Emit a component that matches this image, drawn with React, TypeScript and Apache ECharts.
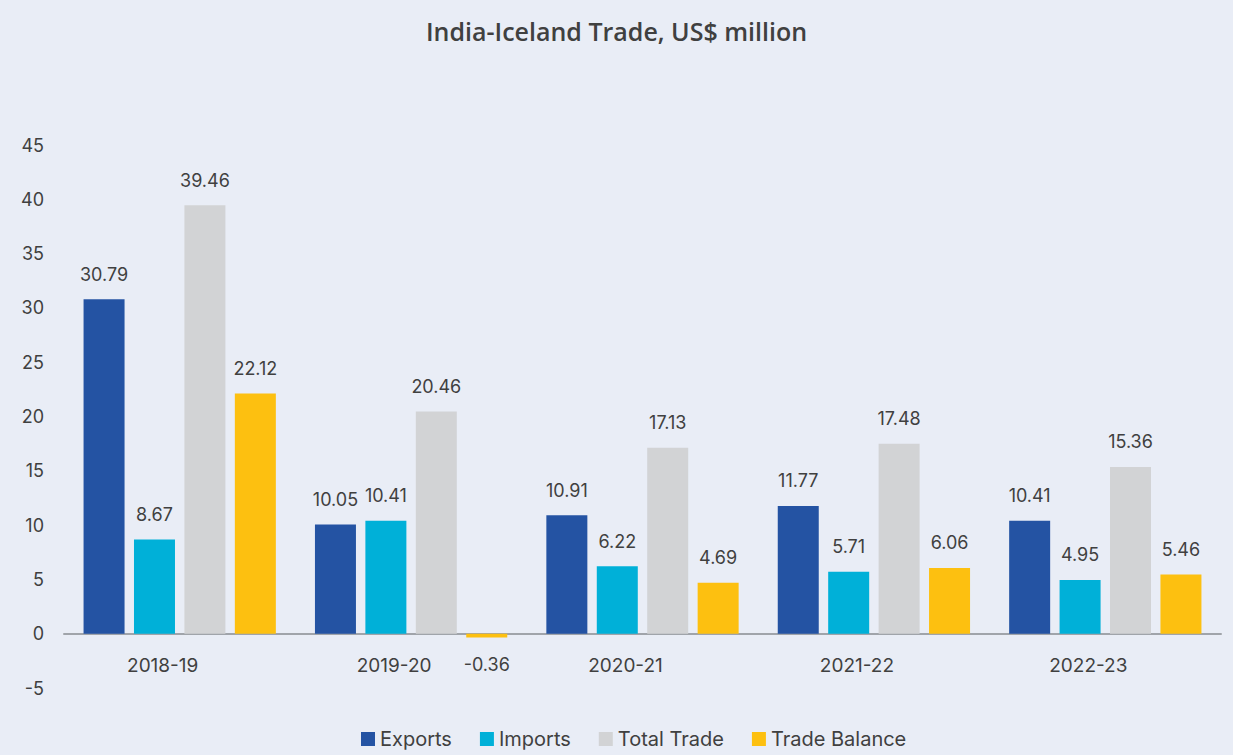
import React, { useEffect, useRef } from "react";
import * as echarts from "echarts";

const categories = ["2018-19", "2019-20", "2020-21", "2021-22", "2022-23"];
const exportsData = [30.79, 10.05, 10.91, 11.77, 10.41];
const importsData = [8.67, 10.41, 6.22, 5.71, 4.95];
const totalTrade = [39.46, 20.46, 17.13, 17.48, 15.36];
const tradeBalance = [22.12, -0.36, 4.69, 6.06, 5.46];

const seriesNames = ["Exports", "Imports", "Total Trade", "Trade Balance"];
const seriesColors = ["#2453A3", "#00B0D8", "#D2D3D5", "#FDC010"];
const seriesValues = [exportsData, importsData, totalTrade, tradeBalance];

const FONT = "Inter, 'Noto Sans', sans-serif";
const TEXT = "#404040";

export default function App() {
  const ref = useRef<HTMLDivElement>(null);
  useEffect(() => {
    document.body.style.margin = "0";
    if (!ref.current) return;
    const chart = echarts.init(ref.current, null, { renderer: "svg" });
    chart.setOption({
      animation: false,
      backgroundColor: "#E9EDF6",
      textStyle: { fontFamily: FONT },
      title: {
        text: "India-Iceland Trade, US$ million",
        left: "center",
        top: 13,
        textStyle: {
          fontSize: 25,
          fontWeight: 600,
          color: TEXT,
          fontFamily: "'Open Sans', sans-serif",
        },
      },
      legend: {
        bottom: 1,
        left: 356,
        itemWidth: 14,
        itemHeight: 14,
        itemGap: 28,
        icon: "rect",
        textStyle: { fontSize: 20, color: TEXT, fontFamily: FONT },
        data: seriesNames,
      },
      grid: { left: 64, right: 12, top: 145, bottom: 67, containLabel: false },
      xAxis: {
        type: "category",
        data: categories,
        axisLine: { onZero: true, lineStyle: { color: "#A0A4AA", width: 2 } },
        axisTick: { show: false },
        axisLabel: {
          margin: -32,
          fontSize: 19,
          color: TEXT,
          fontFamily: FONT,
          padding: [0, 34, 0, 0],
        },
      },
      yAxis: {
        type: "value",
        min: -5,
        max: 45,
        interval: 5,
        splitLine: { show: false },
        axisLine: { show: false },
        axisTick: { show: false },
        axisLabel: { fontSize: 18, color: TEXT, margin: 20, fontFamily: FONT },
      },
      series: seriesNames.map((name, i) => ({
        name,
        type: "bar",
        barWidth: 41,
        barGap: "23%",
        itemStyle: { color: seriesColors[i] },
        label: {
          show: true,
          position: "top",
          distance: 16,
          fontSize: 18,
          color: TEXT,
          fontFamily: FONT,
        },
        data: seriesValues[i].map((v) =>
          v < 0
            ? { value: v, label: { position: "bottom", distance: 18 } }
            : v
        ),
      })),
    });
    return () => chart.dispose();
  }, []);
  return <div ref={ref} style={{ width: 1233, height: 755 }} />;
}
